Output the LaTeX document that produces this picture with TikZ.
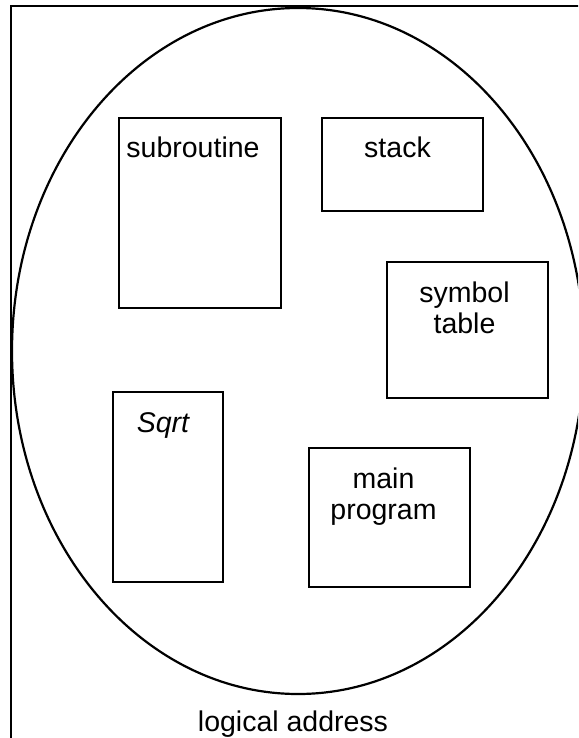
\documentclass[tikz,border=0pt]{standalone}
\usepackage{fontspec}
\setmainfont{Liberation Sans}
\usetikzlibrary{positioning}

\begin{document}
\begin{tikzpicture}[x=1pt, y=-1pt, line width=2.2pt,
  seg/.style={draw, line width=2.2pt, anchor=north west, inner sep=0pt, outer sep=0pt},
  lbl/.style={font=\fontsize{28.5}{31}\selectfont, align=center, inner sep=0pt}]
  \useasboundingbox (0,0) rectangle (578,738);
  \clip (0,0) rectangle (578,738);
  % frame and address space
  \draw[line width=2.6pt] (11,6) rectangle (600,760);
  \draw (298,351) ellipse [x radius=286, y radius=343];
  % segments
  \node[seg, minimum width=162pt, minimum height=190pt] (sub) at (119,118) {};
  \node[seg, minimum width=161pt, minimum height=93pt] (stk) at (322,118) {};
  \node[seg, minimum width=161pt, minimum height=136pt] (sym) at (387,262) {};
  \node[seg, minimum width=110pt, minimum height=190pt] (sqrt) at (113,392) {};
  \node[seg, minimum width=161pt, minimum height=139pt] (mainp) at (309,448) {};
  % names (base of a two-line node is its last line)
  \node[lbl, below=40pt of sub.north, anchor=base, xshift=-7pt] (subtxt) {subroutine};
  \node[lbl, below=40pt of stk.north, anchor=base, xshift=-5pt] (stktxt) {stack};
  \node[lbl, below=71pt of sym.north, anchor=base, xshift=-3pt] (symtxt) {symbol\\table};
  \node[lbl, below=40pt of sqrt.north, anchor=base, xshift=-5pt] (sqrttxt) {\itshape Sqrt};
  \node[lbl, below=71pt of mainp.north, anchor=base, xshift=-6pt] (maintxt) {main\\program};
  \node[lbl, anchor=base] (addr) at (293,731) {logical address};
\end{tikzpicture}
\end{document}
